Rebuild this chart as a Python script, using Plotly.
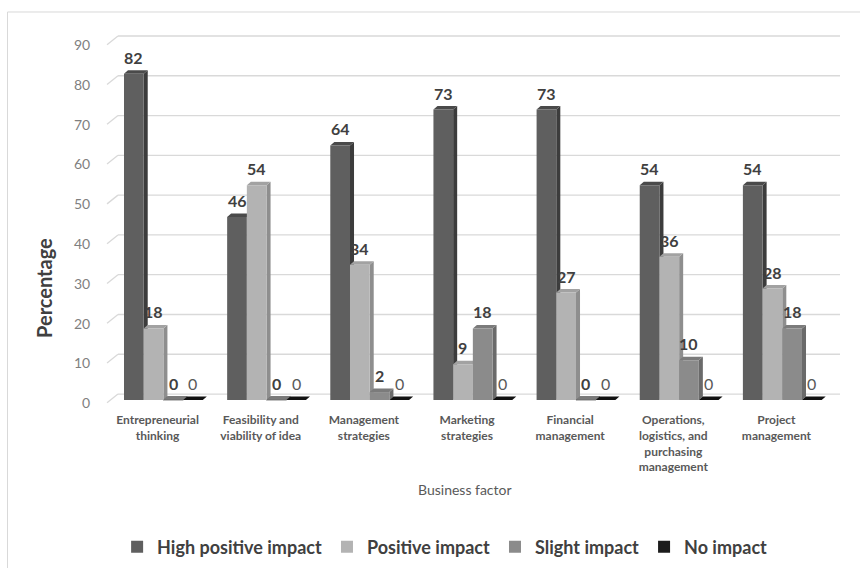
import plotly.graph_objects as go

# Survey results: share of respondents (%) by impact level for each business factor
categories = [
    "Entrepreneurial<br>thinking",
    "Feasibility and<br>viability of idea",
    "Management<br>strategies",
    "Marketing<br>strategies",
    "Financial<br>management",
    "Operations,<br>logistics, and<br>purchasing<br>management",
    "Project<br>management",
]
series_names = ["High positive impact", "Positive impact", "Slight impact", "No impact"]
high_positive = [82, 46, 64, 73, 73, 54, 54]
positive = [18, 54, 34, 9, 27, 36, 28]
slight = [0, 0, 2, 18, 0, 10, 18]
no_impact = [0, 0, 0, 0, 0, 0, 0]
y_ticks = [0, 10, 20, 30, 40, 50, 60, 70, 80, 90]

series_values = [high_positive, positive, slight, no_impact]

# face colours per series: front, side, top
front_col = ["#5f5f5f", "#b3b3b3", "#8b8b8b", "#1c1c1c"]
side_col = ["#3c3c3c", "#8e8e8e", "#6a6a6a", "#0a0a0a"]
top_col = ["#4a4a4a", "#a2a2a2", "#7b7b7b", "#111111"]
label_bold = [True, True, True, False]

# bar geometry inside each category slot (axis units)
offsets = [-0.230, -0.039, 0.152, 0.343]
bar_w = 0.191
depth_x = 0.039   # 3D depth, horizontal
depth_y = 0.88    # 3D depth, vertical

x_min, x_max = -0.5, 6.616
y_min, y_max = -1, 92
wall_dx = 0.116   # back wall horizontal shift
wall_dy = 1.5     # back wall vertical shift

fig = go.Figure()

shapes = []
# back-wall gridlines with the slanted floor/wall edges
for v in y_ticks:
    shapes.append(dict(type="line", xref="x", yref="y",
                       x0=x_min + 0.01, y0=v - 0.7, x1=x_min + wall_dx, y1=v + wall_dy,
                       line=dict(color="#d9d9d9", width=1.3), layer="below"))
    shapes.append(dict(type="line", xref="x", yref="y",
                       x0=x_min + wall_dx, y0=v + wall_dy, x1=x_max, y1=v + wall_dy,
                       line=dict(color="#d9d9d9", width=1.3), layer="below"))

# side and top faces of every bar
for i in range(len(categories)):
    for k, vals in enumerate(series_values):
        v = vals[i]
        xl = i + offsets[k] - bar_w / 2
        xr = i + offsets[k] + bar_w / 2
        side = (f"M {xr},0 L {xr + depth_x},{depth_y} L {xr + depth_x},{v + depth_y} "
                f"L {xr},{v} Z")
        top = (f"M {xl},{v} L {xl + depth_x},{v + depth_y} L {xr + depth_x},{v + depth_y} "
               f"L {xr},{v} Z")
        shapes.append(dict(type="path", xref="x", yref="y", path=side,
                           fillcolor=side_col[k], line=dict(width=0), layer="below"))
        line_spec = dict(width=0.8, color=side_col[k]) if v == 0 and k < 3 else dict(width=0)
        shapes.append(dict(type="path", xref="x", yref="y", path=top,
                           fillcolor=top_col[k], line=line_spec, layer="below"))

# chart-area border
shapes.append(dict(type="rect", xref="paper", yref="paper",
                   x0=-0.1342, y0=-0.503, x1=1.0545, y1=1.0595,
                   line=dict(color="#d9d9d9", width=1), fillcolor="rgba(0,0,0,0)",
                   layer="below"))

annotations = []
for k, (name, vals) in enumerate(zip(series_names, series_values)):
    xs = [i + offsets[k] for i in range(len(categories))]
    fig.add_trace(go.Bar(
        x=xs, y=vals, width=bar_w, name=name,
        marker=dict(color=front_col[k], line=dict(width=0)),
        hoverinfo="y+name",
    ))
    for x, v in zip(xs, vals):
        txt = f"<b>{v}</b>" if label_bold[k] else str(v)
        annotations.append(dict(
            x=x, y=v, xref="x", yref="y", text=txt, showarrow=False,
            yanchor="bottom", yshift=5,
            font=dict(family="Lato", size=16,
                      color="#404040" if label_bold[k] else "#595959"),
        ))

annotations.append(dict(
    x=0.489, y=-0.232, xref="paper", yref="paper", text="Business factor",
    showarrow=False, xanchor="center", yanchor="middle",
    font=dict(family="Lato", size=14, color="#595959"),
))
annotations.append(dict(
    x=-0.0838, y=0.315, xref="paper", yref="paper", text="<b>Percentage</b>",
    showarrow=False, textangle=-90, xanchor="center", yanchor="middle",
    font=dict(family="Lato", size=20, color="#404040"),
))

fig.update_layout(
    width=860, height=568,
    margin=dict(l=106, r=20, t=34, b=164),
    paper_bgcolor="white", plot_bgcolor="white",
    barmode="overlay",
    showlegend=True,
    legend=dict(
        orientation="h", xref="container", yref="container",
        x=0.517, y=0.037, xanchor="center", yanchor="middle",
        font=dict(family="Lato", size=18, color="#404040", weight="bold"),
        itemclick=False, itemdoubleclick=False,
        itemwidth=30,
        traceorder="normal",
    ),
    shapes=shapes,
    annotations=annotations,
    font=dict(family="Lato"),
)
fig.update_xaxes(
    range=[x_min, x_max], tickmode="array",
    tickvals=list(range(len(categories))),
    ticktext=[f"<b>{c}</b>" for c in categories],
    tickfont=dict(family="Lato", size=12, color="#595959"),
    showgrid=False, zeroline=False, showline=False,
    ticks="outside", ticklen=5, tickcolor="rgba(0,0,0,0)",
)
fig.update_yaxes(
    range=[y_min, y_max], tickmode="array",
    tickvals=[v - 0.8 for v in y_ticks], ticktext=[str(v) for v in y_ticks],
    tickfont=dict(family="Lato", size=14, color="#7f7f7f"),
    showgrid=False, zeroline=False, showline=False,
    ticks="outside", ticklen=12, tickcolor="rgba(0,0,0,0)",
)

fig.write_html("out.html")
